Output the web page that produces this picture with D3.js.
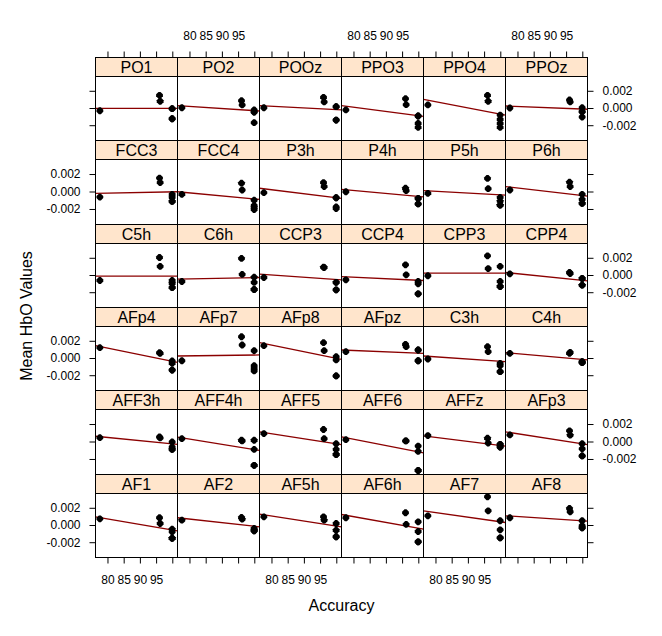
<!DOCTYPE html>
<html><head><meta charset="utf-8">
<script src="https://cdn.jsdelivr.net/npm/d3@7"></script>
<style>
body{margin:0;background:#fff}
svg{display:block}
text{font-family:"Liberation Sans",Arial,Helvetica,sans-serif;fill:#000}
</style>
</head><body>
<svg id="chart" width="662" height="636"></svg>
<script>
// ---- data ----
const channels = ["AF1","AF2","AF5h","AF6h","AF7","AF8",
  "AFF3h","AFF4h","AFF5","AFF6","AFFz","AFp3",
  "AFp4","AFp7","AFp8","AFpz","C3h","C4h",
  "C5h","C6h","CCP3","CCP4","CPP3","CPP4",
  "FCC3","FCC4","P3h","P4h","P5h","P6h",
  "PO1","PO2","POOz","PPO3","PPO4","PPOz"];
const accuracy = [77.5, 95.9, 96.1, 99.8, 99.8, 99.8, 99.8];
const hboValues = [
  [0.00078, 0.00090, 0.00023, -0.00043, -0.00073, -0.00148, -0.00148],
  [0.00062, 0.00093, 0.00073, -0.00035, -0.00050, -0.00062, -0.00062],
  [0.00101, 0.00101, 0.00062, 0.00023, -0.00055, -0.00131, -0.00131],
  [0.00090, 0.00148, 0.00012, 0.00043, -0.00070, -0.00190, -0.00190],
  [0.00113, 0.00334, 0.00171, 0.00055, -0.00050, -0.00143, -0.00143],
  [0.00090, 0.00198, 0.00160, 0.00055, -0.00003, -0.00027, -0.00027],
  [0.00050, 0.00058, 0.00047, 0.00000, -0.00058, -0.00085, -0.00085],
  [0.00038, 0.00020, 0.00012, 0.00020, -0.00085, -0.00267, -0.00267],
  [0.00097, 0.00143, 0.00038, -0.00020, -0.00085, -0.00143, -0.00143],
  [0.00027, 0.00012, 0.00012, -0.00047, -0.00108, -0.00326, -0.00326],
  [0.00073, 0.00043, -0.00012, -0.00027, -0.00027, -0.00058, -0.00058],
  [0.00081, 0.00128, 0.00078, -0.00020, -0.00078, -0.00159, -0.00159],
  [0.00126, 0.00067, 0.00060, -0.00029, -0.00056, -0.00134, -0.00134],
  [-0.00026, 0.00253, 0.00157, 0.00091, -0.00084, -0.00114, -0.00145],
  [0.00149, 0.00184, 0.00091, 0.00021, -0.00017, -0.00203, -0.00203],
  [0.00079, 0.00165, 0.00137, 0.00099, 0.00099, -0.00026, -0.00026],
  [-0.00006, 0.00137, 0.00079, -0.00056, -0.00083, -0.00153, -0.00153],
  [0.00060, 0.00060, 0.00072, -0.00037, -0.00049, -0.00049, -0.00037],
  [-0.00058, 0.00209, 0.00105, -0.00058, -0.00090, -0.00140, -0.00140],
  [-0.00070, 0.00198, 0.00012, -0.00020, -0.00081, -0.00163, -0.00163],
  [-0.00023, 0.00097, 0.00093, -0.00081, -0.00081, -0.00166, -0.00166],
  [-0.00050, 0.00124, 0.00008, -0.00070, -0.00097, -0.00213, -0.00213],
  [-0.00003, 0.00229, 0.00081, 0.00105, -0.00070, -0.00128, -0.00128],
  [0.00020, 0.00035, 0.00023, -0.00035, -0.00035, -0.00112, -0.00112],
  [-0.00058, 0.00159, 0.00108, -0.00027, -0.00062, -0.00108, -0.00108],
  [-0.00027, 0.00101, 0.00023, -0.00093, -0.00155, -0.00175, -0.00201],
  [-0.00008, 0.00108, 0.00062, -0.00066, -0.00066, -0.00171, -0.00190],
  [0.00003, 0.00043, 0.00015, -0.00073, -0.00073, -0.00136, -0.00136],
  [-0.00015, 0.00155, 0.00038, -0.00062, -0.00105, -0.00151, -0.00151],
  [0.00023, 0.00113, 0.00062, -0.00027, -0.00085, -0.00131, -0.00131],
  [-0.00026, 0.00153, 0.00084, -0.00002, -0.00002, -0.00119, -0.00119],
  [0.00009, 0.00091, 0.00041, -0.00017, -0.00041, -0.00041, -0.00165],
  [0.00009, 0.00130, 0.00076, 0.00021, 0.00021, -0.00134, -0.00134],
  [-0.00017, 0.00114, 0.00044, -0.00087, -0.00087, -0.00172, -0.00219],
  [0.00041, 0.00153, 0.00084, -0.00076, -0.00126, -0.00172, -0.00219],
  [0.00006, 0.00099, 0.00076, 0.00009, -0.00037, -0.00037, -0.00099]
];
// fitted regression line values at the left and right edge of each panel
const fitStart = [0.00101, 0.00090, 0.00131, 0.00128, 0.00171, 0.00113,
  0.00066, 0.00055, 0.00116, 0.00058, 0.00070, 0.00116,
  0.00149, 0.00029, 0.00184, 0.00099, 0.00029, 0.00067,
  -0.00007, -0.00042, 0.00015, -0.00012, 0.00028, 0.00035,
  -0.00015, 0.00003, 0.00043, 0.00031, 0.00015, 0.00062,
  0.00002, 0.00033, 0.00033, 0.00033, 0.00107, 0.00029];
const fitEnd = [-0.00062, -0.00015, -0.00015, -0.00043, 0.00035, 0.00050,
  -0.00027, -0.00097, -0.00031, -0.00124, -0.00047, -0.00031,
  -0.00044, 0.00041, -0.00009, 0.00060, -0.00037, -0.00017,
  -0.00007, -0.00023, -0.00050, -0.00058, 0.00028, -0.00062,
  0.00003, -0.00085, -0.00073, -0.00055, -0.00035, -0.00047,
  0.00002, -0.00029, -0.00017, -0.00091, -0.00076, -0.00009];
const xTickValues = [80, 85, 90, 95, 100];
const xTickLabels = ["80", "85", "90", "95", ""];
const yTickValues = [-0.002, 0, 0.002];
const yTickLabels = ["-0.002", "0.000", "0.002"];
const xTitle = "Accuracy";
const yTitle = "Mean HbO Values";

// ---- layout ----
const nCols = 6, nRows = 6;
const left0 = 95.5, colW = 82;
const top0 = 57, rowH = 83.333, stripH = 19;
const xDomain = [76.15, 101.45];
const yDomain = [-0.00372, 0.00372];
const stripFill = "#ffe5cc";
const lineColor = "#8b0000";

const svg = d3.select("#chart");
const x = d3.scaleLinear().domain(xDomain).range([0, colW]);

function rowTop(r){ return Math.round(top0 + rowH * r) + 0.5; }

const defs = svg.append("defs");
const marker = "M-1,-3.4L1,-3.4L3.4,-1L3.4,1L1,3.4L-1,3.4L-3.4,1L-3.4,-1Z";

channels.forEach((name, i) => {
  const r = nRows - 1 - Math.floor(i / nCols);
  const c = i % nCols;
  const L = left0 + colW * c;
  const sTop = rowTop(r);
  const pTop = sTop + stripH;
  const pBot = rowTop(r + 1);
  const pH = pBot - pTop;
  const y = d3.scaleLinear().domain(yDomain).range([pH, 0]);

  const g = svg.append("g").attr("transform", `translate(${L},${pTop})`);
  const clipId = "clip" + i;
  defs.append("clipPath").attr("id", clipId)
    .append("rect").attr("x", 0).attr("y", 0).attr("width", colW).attr("height", pH);

  g.append("rect").attr("width", colW).attr("height", pH)
    .attr("fill", "#fff");

  const inner = g.append("g").attr("clip-path", `url(#${clipId})`);
  // regression line
  inner.append("line")
    .attr("x1", x(xDomain[0])).attr("x2", x(xDomain[1]))
    .attr("y1", y(fitStart[i])).attr("y2", y(fitEnd[i]))
    .attr("stroke", lineColor).attr("stroke-width", 1.3);
  // points
  inner.selectAll("path.pt").data(hboValues[i].map((v, k) => [accuracy[k], v]))
    .join("path").attr("class", "pt")
    .attr("d", marker)
    .attr("transform", d => `translate(${x(d[0])},${y(d[1])})`)
    .attr("fill", "#000");

  g.append("rect").attr("width", colW).attr("height", pH)
    .attr("fill", "none").attr("stroke", "#000").attr("stroke-width", 1);

  // strip
  const s = svg.append("g").attr("transform", `translate(${L},${sTop})`);
  s.append("rect").attr("width", colW).attr("height", stripH)
    .attr("fill", stripFill).attr("stroke", "#000").attr("stroke-width", 1);
  s.append("text").attr("x", colW / 2).attr("y", stripH / 2 + 6)
    .attr("text-anchor", "middle").attr("font-size", 16).text(name);

  // y axes (ticks both sides, labels alternate)
  const yFmt = (d, k) => yTickLabels[yTickValues.indexOf(d)];
  const leftAx = d3.axisLeft(y).tickValues(yTickValues).tickSize(6).tickPadding(9).offset(0)
    .tickFormat(r % 2 === 1 ? yFmt : () => "");
  const rightAx = d3.axisRight(y).tickValues(yTickValues).tickSize(6).tickPadding(9).offset(0)
    .tickFormat(r % 2 === 0 ? yFmt : () => "");
  if (c === 0) {
    const ga = svg.append("g").attr("transform", `translate(${L},${pTop})`).call(leftAx);
    ga.select(".domain").remove();
    ga.attr("font-size", 12).attr("font-family", null);
  }
  if (c === nCols - 1) {
    const ga = svg.append("g").attr("transform", `translate(${L + colW},${pTop})`).call(rightAx);
    ga.select(".domain").remove();
    ga.attr("font-size", 12).attr("font-family", null);
  }
  // x axes
  const xFmt = d => xTickLabels[xTickValues.indexOf(d)];
  if (r === 0) {
    const ax = d3.axisTop(x).tickValues(xTickValues).tickSize(6).tickPadding(11.5).offset(0)
      .tickFormat(c % 2 === 1 ? xFmt : () => "");
    const ga = svg.append("g").attr("transform", `translate(${L},${sTop})`).call(ax);
    ga.select(".domain").remove();
    ga.attr("font-size", 12).attr("font-family", null);
  }
  if (r === nRows - 1) {
    const ax = d3.axisBottom(x).tickValues(xTickValues).tickSize(6).tickPadding(11.5).offset(0)
      .tickFormat(c % 2 === 0 ? xFmt : () => "");
    const ga = svg.append("g").attr("transform", `translate(${L},${pBot})`).call(ax);
    ga.select(".domain").remove();
    ga.attr("font-size", 12).attr("font-family", null);
  }
});

// titles
const plotL = left0, plotR = left0 + colW * nCols;
svg.append("text").attr("x", (plotL + plotR) / 2).attr("y", 611)
  .attr("text-anchor", "middle").attr("font-size", 16).text(xTitle);
svg.append("text")
  .attr("transform", `translate(32,316) rotate(-90)`)
  .attr("text-anchor", "middle").attr("font-size", 16).text(yTitle);
</script>
</body></html>
